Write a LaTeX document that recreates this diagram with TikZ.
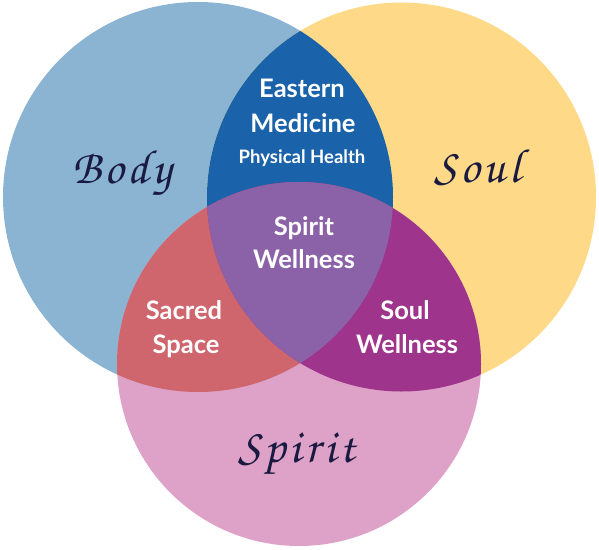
\documentclass[tikz,border=0pt]{standalone}
\usepackage{fontspec}
\setmainfont{Lato}
\newfontfamily\hand[LetterSpace=8]{TeX Gyre Chorus}
\definecolor{cbody}{HTML}{8AB4D2}
\definecolor{csoul}{HTML}{FDD988}
\definecolor{cspirit}{HTML}{DEA2C8}
\definecolor{cbs}{HTML}{1A62AA}
\definecolor{cbp}{HTML}{CF666E}
\definecolor{csp}{HTML}{9E348B}
\definecolor{call}{HTML}{8B62A8}
\definecolor{navy}{HTML}{1A1A40}
\tikzset{
  lbl/.style={text=white, font=\bfseries\fontsize{25.5}{35}\selectfont, align=center, inner sep=0pt},
  small/.style={text=white, font=\bfseries\fontsize{18.5}{20}\selectfont, inner sep=0pt},
  big/.style={text=navy, font=\hand\fontsize{48}{48}\selectfont, inner sep=0pt}
}
\begin{document}
\begin{tikzpicture}[x=1pt,y=-1pt]
\useasboundingbox (0,0) rectangle (599,549);
\def\bodyc{(198,197) circle[radius=195]}
\def\soulc{(401.5,197) circle[radius=194.5]}
\def\spiritc{(299,364) circle[radius=182]}
\fill[cbody] \bodyc;
\fill[csoul] \soulc;
\fill[cspirit] \spiritc;
\begin{scope}
  \clip \bodyc;
  \fill[cbs] \soulc;
  \fill[cbp] \spiritc;
\end{scope}
\begin{scope}
  \clip \soulc;
  \fill[csp] \spiritc;
  \clip \bodyc;
  \fill[call] \spiritc;
\end{scope}
\node[lbl, anchor=base] (east) at (302,97) {Eastern};
\node[lbl, anchor=base] (med) at (303,132) {Medicine};
\node[small, anchor=base] (phys) at (302,163) {Physical Health};
\node[lbl, anchor=base] (spw1) at (304,235) {Spirit};
\node[lbl, anchor=base] (spw2) at (304,268) {Wellness};
\node[lbl, anchor=base] (sac1) at (184,319) {Sacred};
\node[lbl, anchor=base] (sac2) at (186,353) {Space};
\node[lbl, anchor=base] (sow1) at (405,319) {Soul};
\node[lbl, anchor=base] (sow2) at (407,353) {Wellness};
\node[big, anchor=base] (body) at (122,183) {Body};
\node[big, anchor=base] (soul) at (478,182) {Soul};
\node[big, anchor=base] (spirit) at (297,462) {Spirit};
\end{tikzpicture}
\end{document}
